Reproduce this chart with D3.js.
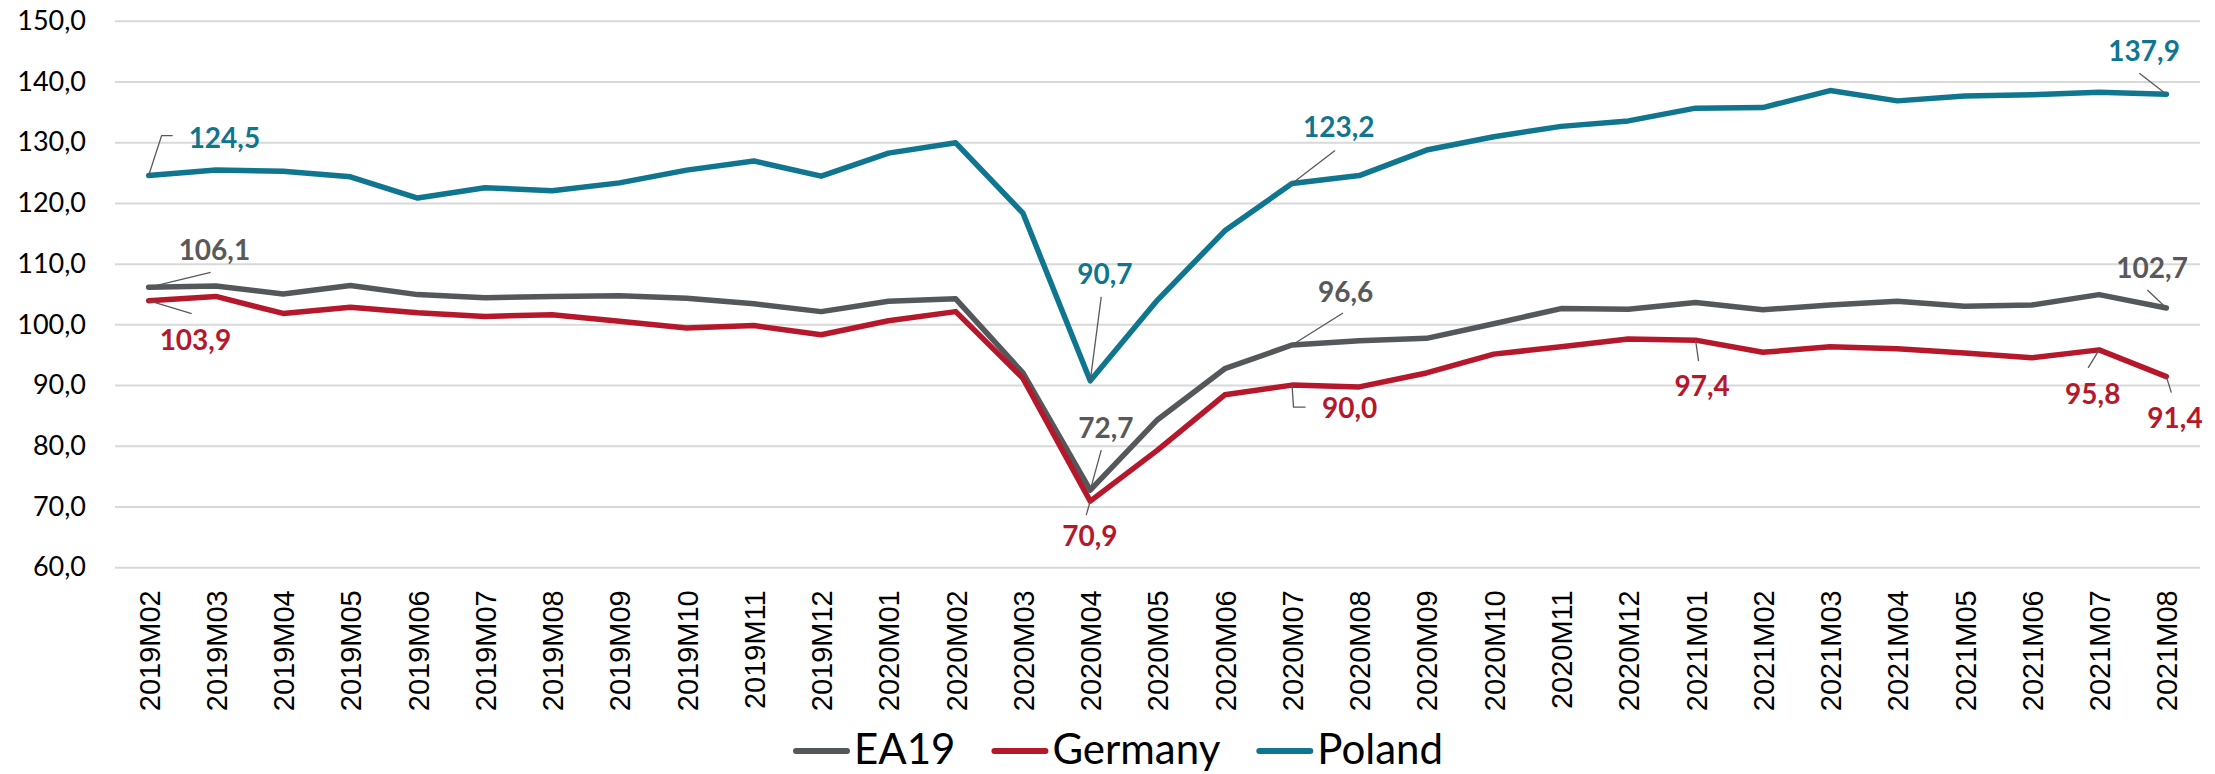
<!DOCTYPE html>
<html>
<head>
<meta charset="utf-8">
<script src="https://cdn.jsdelivr.net/npm/d3@7"></script>
<style>
  body { margin: 0; background: #fff; }
  svg { display: block; }
</style>
</head>
<body>
<div id="chart"></div>
<script>
// months on the x axis
var months = ["2019M02","2019M03","2019M04","2019M05","2019M06","2019M07","2019M08","2019M09","2019M10","2019M11","2019M12",
  "2020M01","2020M02","2020M03","2020M04","2020M05","2020M06","2020M07","2020M08","2020M09","2020M10","2020M11","2020M12",
  "2021M01","2021M02","2021M03","2021M04","2021M05","2021M06","2021M07","2021M08"];

var ea19 = [106.1,106.3,105.0,106.4,104.9,104.4,104.6,104.7,104.3,103.4,102.1,
  103.8,104.2,92.0,72.7,84.3,92.7,96.6,97.3,97.7,100.1,102.6,102.5,
  103.6,102.4,103.2,103.8,103.0,103.2,104.9,102.7];
var germany = [103.9,104.6,101.8,102.8,101.9,101.3,101.6,100.5,99.4,99.8,98.3,
  100.6,102.1,91.1,70.9,79.3,88.4,90.0,89.7,92.0,95.1,96.3,97.6,
  97.4,95.4,96.3,96.0,95.3,94.5,95.8,91.4];
var poland = [124.5,125.4,125.2,124.3,120.8,122.5,122.0,123.3,125.4,126.9,124.4,
  128.2,129.9,118.3,90.7,104.0,115.4,123.2,124.5,128.7,130.9,132.6,133.5,
  135.6,135.7,138.5,136.8,137.6,137.8,138.2,137.9];

var yTicks = [60,70,80,90,100,110,120,130,140,150];
var seriesNames = ["EA19","Germany","Poland"];
var colors = {EA19: "#54585a", Germany: "#b5182b", Poland: "#10758f"};
var labelColors = {EA19: "#595959", Germany: "#b5182b", Poland: "#10758f"};

var series = [
  {name: "EA19", values: ea19},
  {name: "Germany", values: germany},
  {name: "Poland", values: poland}
];

// which points get a value label; dx/dy = text start offset from the point, lead = leader line offsets
var callouts = [
  {s: "Poland", i: 0, dx: 40, dy: -28, lead: [[0,0],[13,-40],[24,-40]]},
  {s: "EA19", i: 0, dx: 30, dy: -27, lead: [[0,0],[62,-15]]},
  {s: "Germany", i: 0, dx: 11, dy: 49, lead: [[0,0],[43,13]]},
  {s: "Poland", i: 14, dx: -13, dy: -97, lead: [[0,0],[11,-84]]},
  {s: "EA19", i: 14, dx: -12, dy: -52, lead: [[0,0],[11,-40]]},
  {s: "Germany", i: 14, dx: -28, dy: 45, lead: [[0,0],[-4,14]]},
  {s: "EA19", i: 17, dx: 26, dy: -43, lead: [[0,0],[51,-32]]},
  {s: "Germany", i: 17, dx: 30, dy: 33, lead: [[0,0],[1.5,22],[13.5,22]]},
  {s: "Poland", i: 17, dx: 11, dy: -46, lead: [[0,0],[43,-33]]},
  {s: "Germany", i: 23, dx: -21, dy: 56, lead: [[0,0],[3,21]]},
  {s: "Germany", i: 29, dx: -34, dy: 54, lead: [[0,0],[-11,18]]},
  {s: "Germany", i: 30, dx: -19, dy: 51, lead: [[0,0],[5,16]]},
  {s: "EA19", i: 30, dx: -50, dy: -30, lead: [[0,0],[-19,-18]]},
  {s: "Poland", i: 30, dx: -58, dy: -33, lead: [[0,0],[-27,-21]]}
];

var W = 2215, H = 774;
var margin = {left: 115, right: 2200, top: 20.7, bottom: 567.3};

var svg = d3.select("#chart").append("svg")
  .attr("width", W)
  .attr("height", H);

var x = d3.scalePoint().domain(months).range([margin.left, margin.right]).padding(0.5);
var y = d3.scaleLinear().domain([60, 150]).range([margin.bottom, margin.top]);

var fmt = function(v) { return d3.format(".1f")(v).replace(".", ","); };

// gridlines + y labels
var yAxis = svg.append("g")
  .attr("transform", "translate(" + margin.left + ",0)")
  .call(d3.axisLeft(y).tickValues(yTicks).tickSize(-(margin.right - margin.left)).tickPadding(29).tickFormat(fmt));
yAxis.select(".domain").remove();
yAxis.selectAll(".tick line")
  .attr("stroke", "#d9d9d9")
  .attr("stroke-width", 2);
yAxis.selectAll(".tick text")
  .attr("fill", "#000")
  .style("font-family", "Lato, 'Open Sans', sans-serif")
  .style("font-size", "27px");

// x labels
var xAxis = svg.append("g")
  .attr("transform", "translate(0," + margin.bottom + ")")
  .call(d3.axisBottom(x).tickSize(0));
xAxis.select(".domain").remove();
xAxis.selectAll(".tick text")
  .attr("transform", "rotate(-90)")
  .attr("text-anchor", "end")
  .attr("x", -23)
  .attr("y", 0)
  .attr("dy", "0.36em")
  .attr("fill", "#000")
  .style("font-family", "'Liberation Sans', Arial, sans-serif")
  .style("font-size", "29px");

// lines
var line = d3.line()
  .x(function(d, i) { return x(months[i]); })
  .y(function(d) { return y(d); });

svg.append("g").selectAll("path")
  .data(series)
  .join("path")
    .attr("d", function(d) { return line(d.values); })
    .attr("fill", "none")
    .attr("stroke", function(d) { return colors[d.name]; })
    .attr("stroke-width", 5.5)
    .attr("stroke-linejoin", "round")
    .attr("stroke-linecap", "round");

// value callouts
var valuesOf = {EA19: ea19, Germany: germany, Poland: poland};
var cg = svg.append("g");
callouts.forEach(function(c) {
  var px = x(months[c.i]), py = y(valuesOf[c.s][c.i]);
  cg.append("path")
    .attr("d", d3.line()(c.lead.map(function(p) { return [px + p[0], py + p[1]]; })))
    .attr("fill", "none")
    .attr("stroke", "#595959")
    .attr("stroke-width", 1.3);
  cg.append("text")
    .attr("x", px + c.dx)
    .attr("y", py + c.dy)
    .attr("fill", labelColors[c.s])
    .style("font-family", "Lato, 'Open Sans', sans-serif")
    .style("font-weight", "bold")
    .style("font-size", "28px")
    .text(fmt(valuesOf[c.s][c.i]));
});

// legend
var legend = svg.append("g").attr("transform", "translate(793,0)");
var lx = 0;
seriesNames.forEach(function(name) {
  legend.append("line")
    .attr("x1", lx + 3).attr("x2", lx + 54)
    .attr("y1", 751).attr("y2", 751)
    .attr("stroke", colors[name])
    .attr("stroke-width", 6)
    .attr("stroke-linecap", "round");
  var t = legend.append("text")
    .attr("x", lx + 61)
    .attr("y", 764)
    .attr("fill", "#000")
    .style("font-family", "Lato, 'Open Sans', sans-serif")
    .style("font-size", "42px")
    .text(name);
  lx += 61 + t.node().getComputedTextLength() + 36;
});
</script>
</body>
</html>
